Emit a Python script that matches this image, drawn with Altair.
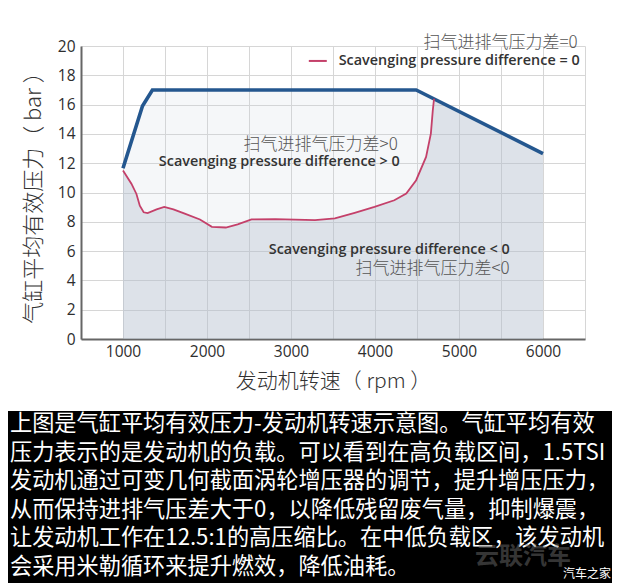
import altair as alt
import pandas as pd

# ---- data ----
rpm_blue = [1000, 1232, 1350, 4490, 6000]
bmep_blue = [11.65, 15.9, 17.0, 17.0, 12.65]

rpm_red = [1000, 1100, 1160, 1200, 1246, 1293, 1400, 1491, 1600, 1727, 1916, 2058,
           2224, 2365, 2530, 2813, 3286, 3522, 3758, 3994, 4230, 4372, 4490, 4608,
           4665, 4688, 4703]
bmep_red = [11.5, 10.6, 9.9, 9.1, 8.65, 8.6, 8.85, 9.02, 8.85, 8.57, 8.16, 7.66,
            7.61, 7.82, 8.16, 8.18, 8.11, 8.23, 8.61, 9.02, 9.47, 9.93, 10.84, 12.43,
            14.02, 15.6, 16.4]

x_domain = [500, 6500]
x_tick_count = 12     # grid every 500 rpm, labels every 1000
y_domain = [0, 20]
y_tick_count = 10     # every 2 bar

cn_labels = ["扫气进排气压力差=0", "扫气进排气压力差>0", "扫气进排气压力差<0"]
cn_rpm = [6412, 4271, 5603]
cn_bmep = [20.2, 13.24, 4.78]

en_labels = ["Scavenging pressure difference = 0", "Scavenging pressure difference > 0",
             "Scavenging pressure difference < 0"]
en_rpm = [6436, 4295, 5603]
en_bmep = [18.98, 12.08, 6.08]

legend_rpm = [3212, 3426]
legend_bmep = 18.98

body_lines = [
    "上图是气缸平均有效压力-发动机转速示意图。气缸平均有效",
    "压力表示的是发动机的负载。可以看到在高负载区间，1.5TSI",
    "发动机通过可变几何截面涡轮增压器的调节，提升增压压力，",
    "从而保持进排气压差大于0，以降低残留废气量，抑制爆震，",
    "让发动机工作在12.5:1的高压缩比。在中低负载区，该发动机",
    "会采用米勒循环来提升燃效，降低油耗。",
]

# ---- tables ----
blue_df = pd.DataFrame({"rpm": rpm_blue, "bmep": bmep_blue})
red_df = pd.DataFrame({"rpm": rpm_red, "bmep": bmep_red})
lower_df = pd.DataFrame({"rpm": rpm_red + [rpm_blue[-1]], "bmep": bmep_red + [bmep_blue[-1]]})
cn_df = pd.DataFrame({"rpm": cn_rpm, "bmep": cn_bmep, "t": cn_labels})
en_df = pd.DataFrame({"rpm": en_rpm, "bmep": en_bmep, "t": en_labels})
one = pd.DataFrame({"a": [0]})

X = alt.X(
    "rpm:Q",
    scale=alt.Scale(domain=x_domain, nice=False, zero=False),
    axis=alt.Axis(
        tickCount=x_tick_count,
        labelExpr="(datum.value % 1000 == 0 && datum.value >= 1000 && datum.value <= 6000) ? datum.value : ''",
        labelOverlap=False,
        title="发动机转速（ rpm ）",
        titleX=252, titleY=42, titleBaseline="middle", titleAlign="center",
        titleFontSize=21,
        labelPadding=5,
    ),
)
Y = alt.Y(
    "bmep:Q",
    scale=alt.Scale(domain=y_domain, nice=False),
    axis=alt.Axis(
        tickCount=y_tick_count,
        labelOverlap=False,
        labelFontSize=15.5,
        title="气缸平均有效压力（ bar ）",
        titleX=-48, titleY=146, titleBaseline="middle", titleAlign="center",
        titleAngle=270, titleFontSize=22,
        labelPadding=6,
    ),
)

upper_area = alt.Chart(blue_df).mark_area(color="#c5d0dd", opacity=0.18).encode(x=X, y=Y)
lower_area = alt.Chart(lower_df).mark_area(color="#aab8c8", opacity=0.32).encode(x=X, y=Y)
blue_line = alt.Chart(blue_df).mark_line(color="#24578f", strokeWidth=3.6).encode(x=X, y=Y)
red_line = alt.Chart(red_df).mark_line(color="#c4406a", strokeWidth=1.8).encode(x=X, y=Y)

cn_text = alt.Chart(cn_df).mark_text(
    align="right", baseline="middle", font="Noto Sans CJK SC", fontSize=17,
    color="#555555", fontWeight=300,
).encode(x=X, y=Y, text="t:N")
en_text = alt.Chart(en_df).mark_text(
    align="right", baseline="middle", font="Open Sans", fontSize=14.4,
    color="#333333", fontWeight=600,
).encode(x=X, y=Y, text="t:N")

legend_line = alt.Chart(one).mark_rule(color="#c4406a", strokeWidth=2).encode(
    x=alt.datum(legend_rpm[0]), x2=alt.datum(legend_rpm[1]), y=alt.datum(legend_bmep)
)

band = alt.Chart(one).mark_rect(color="#000000").encode(
    x=alt.value(-73), x2=alt.value(531), y=alt.value(365), y2=alt.value(540)
)
body = alt.Chart(one).mark_text(
    text=body_lines, align="left", baseline="top", font="Noto Sans CJK SC",
    fontSize=22.2, lineHeight=28.6, color="#ffffff",
).encode(x=alt.value(-71), y=alt.value(367))
watermark = alt.Chart(one).mark_text(
    text="云联汽车", align="center", baseline="middle", font="Noto Sans CJK SC",
    fontSize=24, fontWeight="bold", color="#777777", opacity=0.45,
).encode(x=alt.value(442), y=alt.value(511))
credit = alt.Chart(one).mark_text(
    text="汽车之家", align="right", baseline="middle", font="Noto Sans CJK SC",
    fontSize=12, color="#ffffff",
).encode(x=alt.value(530), y=alt.value(528))

chart = alt.layer(
    upper_area, lower_area, blue_line, red_line, cn_text, en_text, legend_line,
    band, body, watermark, credit,
).properties(
    width=504, height=293,
    autosize=alt.AutoSizeParams(type="none"),
    padding={"left": 73, "top": 38, "right": 27, "bottom": 244},
    background="#ffffff",
).configure_view(
    strokeWidth=0
).configure_axis(
    labelFont="Open Sans", labelFontSize=15.5, labelColor="#2e2e2e", labelFontWeight=500,
    titleFont="Noto Sans CJK SC", titleColor="#333333", titleFontWeight=300,
    gridColor="#d6d6d6", gridWidth=1, ticks=False,
    domainColor="#666666", domainWidth=2,
)

chart.save("out.html", embed_options={"renderer": "svg", "actions": False})
